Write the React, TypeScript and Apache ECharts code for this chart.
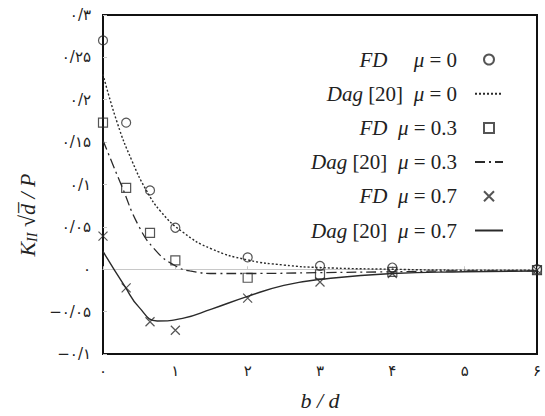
import React, { useEffect, useRef } from "react";
import * as echarts from "echarts";

// ---- data ----
const fdMu0: number[][] = [
  [0, 0.27], [0.32, 0.173], [0.65, 0.093], [1, 0.049], [2, 0.014], [3, 0.004], [4, 0.002], [6, 0.0],
];
const fdMu03: number[][] = [
  [0, 0.173], [0.32, 0.096], [0.65, 0.043], [1, 0.0105], [2, -0.01], [3, -0.006], [4, -0.003], [6, -0.001],
];
const fdMu07: number[][] = [
  [0, 0.039], [0.32, -0.022], [0.65, -0.062], [1, -0.072], [2, -0.034], [3, -0.015], [4, -0.005], [6, -0.001],
];
const dagMu0: number[][] = [
  [0, 0.23], [0.2, 0.172], [0.4, 0.128], [0.6, 0.093], [0.8, 0.068], [1.1, 0.044], [1.5, 0.024],
  [2.0, 0.011], [2.5, 0.005], [3.0, 0.002], [4, 0.0], [5, -0.001], [6, -0.001],
];
const dagMu03: number[][] = [
  [0, 0.152], [0.25, 0.1], [0.5, 0.05], [0.73, 0.022], [0.96, 0.006], [1.2, -0.002],
  [1.6, -0.005], [2, -0.005], [3, -0.004], [4, -0.003], [5, -0.002], [6, -0.002],
];
const dagMu07: number[][] = [
  [0, 0.021], [0.3, -0.02], [0.5, -0.045], [0.75, -0.061], [1.1, -0.058], [1.5, -0.047],
  [2.0, -0.032], [2.5, -0.019], [3.0, -0.012], [4, -0.005], [5, -0.003], [6, -0.002],
];

const xTickLabels = ["۰", "۱", "۲", "۳", "۴", "۵", "۶"];
const yTickValues = [-0.1, -0.05, 0, 0.05, 0.1, 0.15, 0.2, 0.25, 0.3];
const yTickLabels = ["−۰/۱", "−۰/۰۵", "۰", "۰/۰۵", "۰/۱", "۰/۱۵", "۰/۲", "۰/۲۵", "۰/۳"];

const seriesNames = [
  "FD μ=0",
  "Dag [20] μ=0",
  "FD μ=0.3",
  "Dag [20] μ=0.3",
  "FD μ=0.7",
  "Dag [20] μ=0.7",
];
const legendRich: Record<string, string> = {
  "FD μ=0": "{i|FD}{r|     }{i|μ}{r| = 0}",
  "Dag [20] μ=0": "{i|Dag}{r| [20]  }{i|μ}{r| = 0}",
  "FD μ=0.3": "{i|FD}{r|  }{i|μ}{r| = 0.3}",
  "Dag [20] μ=0.3": "{i|Dag}{r| [20]  }{i|μ}{r| = 0.3}",
  "FD μ=0.7": "{i|FD}{r|  }{i|μ}{r| = 0.7}",
  "Dag [20] μ=0.7": "{i|Dag}{r| [20]  }{i|μ}{r| = 0.7}",
};

const INK = "#2a2a2a";
const SERIF = "'Liberation Serif', 'DejaVu Serif', serif";
const CROSS = "path://M0 0L10 10M10 0L0 10";
const SQUARE = "path://M0 0L10 0L10 10L0 10Z";

export default function App() {
  const ref = useRef<HTMLDivElement>(null);
  useEffect(() => {
    if (!ref.current) return;
    const chart = echarts.init(ref.current, undefined, { renderer: "svg" });
    const hollow = { color: "rgba(0,0,0,0)", borderColor: INK, borderWidth: 1.2 };
    const noSym = { color: "rgba(0,0,0,0)", borderWidth: 0, opacity: 0 };
    chart.setOption({
      animation: false,
      backgroundColor: "#fff",
      grid: {
        left: 103, right: 8, top: 15, bottom: 56,
        show: true, borderColor: "#111", borderWidth: 2, backgroundColor: "transparent",
      },
      legend: {
        orient: "vertical",
        align: "right",
        right: 41,
        top: 49,
        padding: 0,
        itemWidth: 28,
        itemHeight: 10,
        itemGap: 13.2,
        data: [
          { name: seriesNames[0] },
          { name: seriesNames[1], itemStyle: noSym },
          { name: seriesNames[2], icon: SQUARE },
          { name: seriesNames[3], itemStyle: noSym },
          { name: seriesNames[4] },
          { name: seriesNames[5], itemStyle: noSym },
        ],
        formatter: (name: string) => legendRich[name] || name,
        textStyle: {
          padding: [0, 13, 0, 0],
          rich: {
            i: { fontFamily: SERIF, fontStyle: "italic", fontSize: 21, color: "#222" },
            r: { fontFamily: SERIF, fontSize: 21, color: "#222" },
          },
        },
      },
      graphic: [
        {
          type: "text",
          x: 27,
          y: 215,
          rotation: Math.PI / 2,
          style: {
            text: "{k|K}{s|II}{k| √d\u0305 / P}",
            align: "center",
            verticalAlign: "middle",
            rich: {
              k: { fontFamily: SERIF, fontStyle: "italic", fontSize: 22, fill: "#222" },
              s: { fontFamily: SERIF, fontStyle: "italic", fontSize: 14, fill: "#222", padding: [10, 0, 0, 0] },
            },
          },
        },
      ],
      xAxis: [
        {
          type: "value",
          min: 0,
          max: 6,
          interval: 1,
          position: "bottom",
          axisLine: { show: false, onZero: false },
          axisTick: { show: false },
          splitLine: { show: false },
          axisLabel: {
            margin: 9,
            fontFamily: "'DejaVu Sans', sans-serif",
            fontSize: 15,
            color: "#222",
            formatter: (v: number) => xTickLabels[Math.round(v)] ?? "",
          },
          name: "b / d",
          nameLocation: "middle",
          nameGap: 35,
          nameTextStyle: { fontFamily: SERIF, fontStyle: "italic", fontSize: 22, color: "#222" },
        },
        {
          type: "value",
          min: 0,
          max: 6,
          interval: 1,
          position: "bottom",
          axisLine: { show: true, onZero: true, lineStyle: { color: "#c8c8c8", width: 1 } },
          axisTick: { show: true, inside: true, length: 3, lineStyle: { color: "#c8c8c8" } },
          axisLabel: { show: false },
          splitLine: { show: false },
        },
      ],
      yAxis: {
        type: "value",
        min: -0.1,
        max: 0.3,
        interval: 0.05,
        axisLine: { show: false },
        axisTick: { show: true, inside: true, length: 4, lineStyle: { color: "#c8c8c8" } },
        splitLine: { show: false },
        axisLabel: {
          margin: 12,
          fontFamily: "'DejaVu Sans', sans-serif",
          fontSize: 15,
          color: "#222",
          formatter: (v: number) => {
            let best = 0;
            for (let i = 0; i < yTickValues.length; i++) {
              if (Math.abs(yTickValues[i] - v) < Math.abs(yTickValues[best] - v)) best = i;
            }
            return yTickLabels[best];
          },
        },
      },
      series: [
        {
          name: seriesNames[0], type: "scatter", data: fdMu0, symbol: "circle", symbolSize: 9,
          itemStyle: hollow, z: 5,
        },
        {
          name: seriesNames[1], type: "line", data: dagMu0, smooth: 0.5,
          showSymbol: false, symbol: "none",
          lineStyle: { color: INK, width: 1.4, type: [2, 2] }, itemStyle: { color: INK },
        },
        {
          name: seriesNames[2], type: "scatter", data: fdMu03, symbol: "rect", symbolSize: 9,
          itemStyle: hollow, z: 5,
        },
        {
          name: seriesNames[3], type: "line", data: dagMu03, smooth: 0.5,
          showSymbol: false, symbol: "none",
          lineStyle: { color: INK, width: 1.3, type: [10, 4, 2, 4] }, itemStyle: { color: INK },
        },
        {
          name: seriesNames[4], type: "scatter", data: fdMu07, symbol: CROSS,
          symbolSize: 9, itemStyle: hollow, z: 5,
        },
        {
          name: seriesNames[5], type: "line", data: dagMu07, smooth: 0.5,
          showSymbol: false, symbol: "none",
          lineStyle: { color: INK, width: 1.4, type: "solid" }, itemStyle: { color: INK },
        },
      ],
    });
    return () => chart.dispose();
  }, []);
  return (
    <div
      ref={ref}
      style={{ position: "fixed", left: 0, top: 0, width: 545, height: 416, background: "#fff" }}
    />
  );
}
